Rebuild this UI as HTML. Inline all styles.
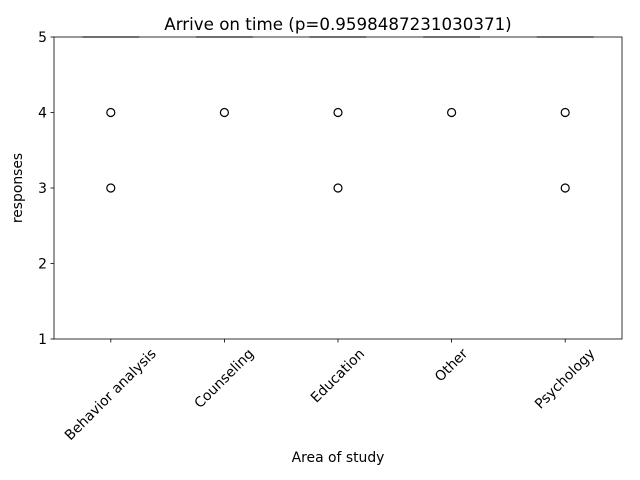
<!DOCTYPE html>
<html><head><meta charset="utf-8"><style>body{margin:0;background:#fff}svg{display:block;font-family:"DejaVu Sans","Liberation Sans",sans-serif}</style></head>
<body>
<svg id="c" width="640" height="480"></svg>
<script>
const categories=["Behavior analysis","Counseling","Education","Other","Psychology"];
const medians=[5,5,5,5,5];
const fliers=[[4,3],[4],[4,3],[4],[4,3]];
const yTicks=[1,2,3,4,5];
const NS="http://www.w3.org/2000/svg";
const svg=document.getElementById('c');
const L=54,R=622,T=37,B=339;
const x=i=>L+(i+0.5)*(R-L)/categories.length;
const y=v=>B-(v-1)/4*(B-T);
function el(t,a,txt){const e=document.createElementNS(NS,t);for(const k in a)e.setAttribute(k,a[k]);if(txt!==undefined)e.textContent=txt;svg.appendChild(e);return e;}
const t=el('text',{x:338,y:30,'text-anchor':'middle','font-size':16.7},'Arrive on time (p=0.9598487231030371)');

yTicks.forEach(v=>{
  const l=el('line',{x1:L-3.5,x2:L,y1:y(v),y2:y(v),stroke:'#000','stroke-width':0.8});
  
  const tx=el('text',{x:L-7,y:y(v)+5,'text-anchor':'end','font-size':13.9},String(v));
  
});
categories.forEach((c,i)=>{
  const cx=x(i);
  const bx=el('line',{x1:cx-28.4,x2:cx+28.4,y1:y(medians[i]),y2:y(medians[i]),stroke:'#888','stroke-width':1.5});
  
  fliers[i].forEach(v=>{
    const p=el('circle',{cx:cx,cy:y(v),r:4,fill:'none',stroke:'#000','stroke-width':1.2});
    
  });
  const tk=el('line',{x1:cx,x2:cx,y1:B,y2:B+3.5,stroke:'#000','stroke-width':0.8});
  
  const lb=el('text',{'text-anchor':'middle','dominant-baseline':'central','font-size':13.9},c);
  
  const len=lb.getComputedTextLength();
  const half=(len+16)*0.7071/2;
  lb.setAttribute('transform',`translate(${cx},${B+7+half}) rotate(-45)`);
});
const fr=el('rect',{x:L,y:T,width:R-L,height:B-T,fill:'none',stroke:'#000','stroke-width':0.8});

const xl=el('text',{x:338,y:462,'text-anchor':'middle','font-size':13.9},'Area of study');

const yl=el('text',{transform:'translate(22,188) rotate(-90)','text-anchor':'middle','font-size':13.9},'responses');

</script>
</body></html>
